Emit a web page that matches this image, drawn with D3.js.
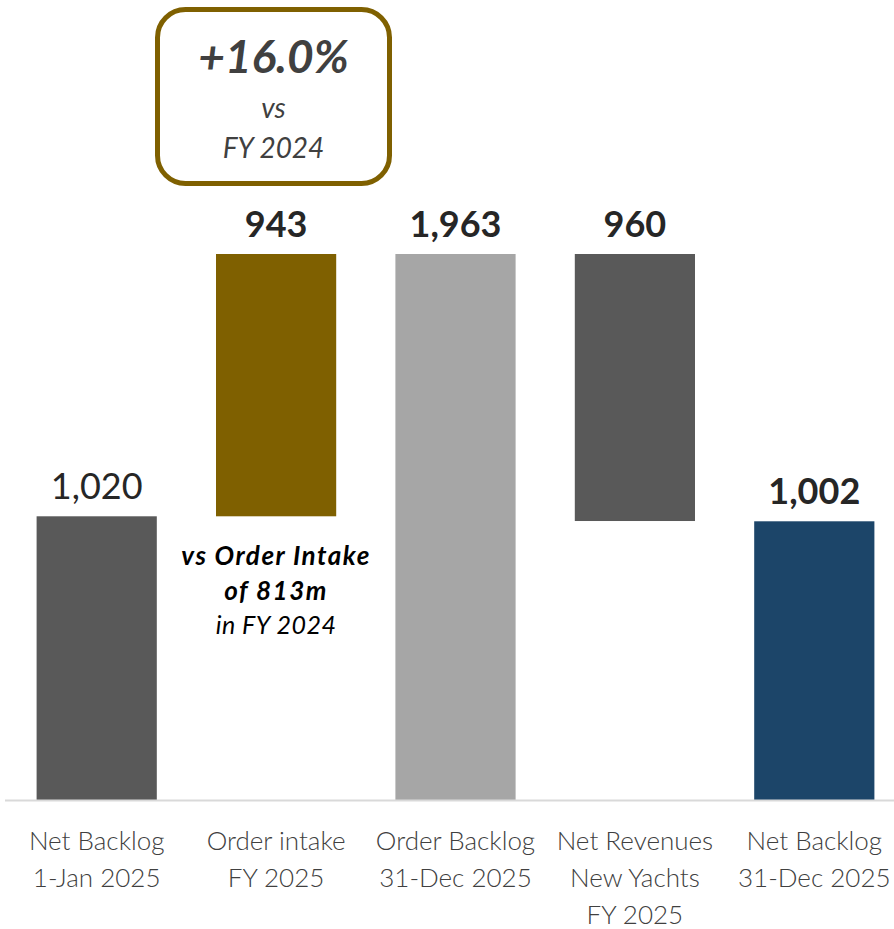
<!DOCTYPE html>
<html>
<head>
<meta charset="utf-8">
<script src="https://cdn.jsdelivr.net/npm/d3@7"></script>
<style>
  body { margin: 0; background: #fff; }
  text { font-family: Lato, "Open Sans", sans-serif; }
</style>
</head>
<body>
<div class="chart"></div>
<script>
// Step 1: data
var categories = [
  ["Net Backlog", "1-Jan 2025"],
  ["Order intake", "FY 2025"],
  ["Order Backlog", "31-Dec 2025"],
  ["Net Revenues", "New Yachts", "FY 2025"],
  ["Net Backlog", "31-Dec 2025"]
];
var values = [1020, 943, 1963, 960, 1002];
var bases = [0, 1020, 0, 1003, 0];   // where each floating bar starts
var valueLabels = ["1,020", "943", "1,963", "960", "1,002"];
var boldLabel = [false, true, true, true, true];
var colors = ["#595959", "#7F6000", "#A6A6A6", "#595959", "#1C4569"];

// Step 2: set up svg
var svgWidth = 894;
var svgHeight = 929;
var baseline = 800;

var svg = d3.select(".chart")
  .append("svg")
  .attr("width", svgWidth)
  .attr("height", svgHeight);

var xBand = d3.scaleBand()
  .domain(d3.range(values.length))
  .range([7, 904])
  .paddingInner(0.33)
  .paddingOuter(0.165);

var yLinearScale = d3.scaleLinear()
  .domain([0, 1963])
  .range([baseline, 254]);

// bars
svg.selectAll("rect.bar")
  .data(values)
  .enter()
  .append("rect")
  .attr("class", "bar")
  .attr("x", (d, i) => xBand(i))
  .attr("width", xBand.bandwidth())
  .attr("y", (d, i) => yLinearScale(bases[i] + d))
  .attr("height", (d, i) => yLinearScale(bases[i]) - yLinearScale(bases[i] + d))
  .attr("fill", (d, i) => colors[i]);

// axis line
svg.append("line")
  .attr("x1", 5).attr("x2", svgWidth)
  .attr("y1", baseline + 0.5).attr("y2", baseline + 0.5)
  .attr("stroke", "#D9D9D9")
  .attr("stroke-width", 2);

// value labels
svg.selectAll("text.val")
  .data(values)
  .enter()
  .append("text")
  .attr("class", "val")
  .attr("x", (d, i) => xBand(i) + xBand.bandwidth() / 2)
  .attr("y", (d, i) => yLinearScale(bases[i] + d) - 17)
  .attr("text-anchor", "middle")
  .attr("font-size", 36)
  .attr("font-weight", (d, i) => boldLabel[i] ? 700 : 400)
  .attr("fill", "#262626")
  .text((d, i) => valueLabels[i]);

// category labels
var catGroup = svg.selectAll("text.cat")
  .data(categories)
  .enter()
  .append("text")
  .attr("class", "cat")
  .attr("x", (d, i) => xBand(i) + xBand.bandwidth() / 2)
  .attr("y", 850)
  .attr("text-anchor", "middle")
  .attr("font-size", 26)
  .attr("font-weight", 300)
  .attr("fill", "#404040");

catGroup.selectAll("tspan")
  .data(d => d)
  .enter()
  .append("tspan")
  .attr("x", function() { return d3.select(this.parentNode).attr("x"); })
  .attr("dy", (d, i) => i === 0 ? 0 : 37)
  .text(d => d);

// growth callout box
svg.append("rect")
  .attr("x", 157.5).attr("y", 9.5)
  .attr("width", 232).attr("height", 174)
  .attr("rx", 28)
  .attr("fill", "#fff")
  .attr("stroke", "#7F6000")
  .attr("stroke-width", 5);

var boxX = 273.5;
svg.append("text")
  .attr("x", boxX).attr("y", 73)
  .attr("text-anchor", "middle")
  .attr("font-size", 46).attr("font-weight", 700).attr("font-style", "italic")
  .attr("fill", "#404040")
  .text("+16.0%");
svg.append("text")
  .attr("x", boxX).attr("y", 118)
  .attr("text-anchor", "middle")
  .attr("font-size", 28).attr("font-style", "italic")
  .attr("fill", "#404040")
  .text("vs");
svg.append("text")
  .attr("x", boxX).attr("y", 158)
  .attr("text-anchor", "middle")
  .attr("font-size", 28).attr("font-style", "italic")
  .attr("fill", "#404040")
  .text("FY 2024");

// note under order intake bar
var noteX = xBand(1) + xBand.bandwidth() / 2;
svg.append("text")
  .attr("x", noteX).attr("y", 565)
  .attr("text-anchor", "middle")
  .attr("font-size", 26).attr("font-weight", 700).attr("font-style", "italic")
  .attr("letter-spacing", 1.5)
  .attr("fill", "#000")
  .text("vs Order Intake");
svg.append("text")
  .attr("x", noteX).attr("y", 600)
  .attr("text-anchor", "middle")
  .attr("font-size", 26).attr("font-weight", 700).attr("font-style", "italic")
  .attr("letter-spacing", 1.5)
  .attr("fill", "#000")
  .text("of 813m");
svg.append("text")
  .attr("x", noteX).attr("y", 634)
  .attr("text-anchor", "middle")
  .attr("font-size", 25).attr("font-style", "italic")
  .attr("letter-spacing", 0.5)
  .attr("fill", "#000")
  .text("in FY 2024");
</script>
</body>
</html>
